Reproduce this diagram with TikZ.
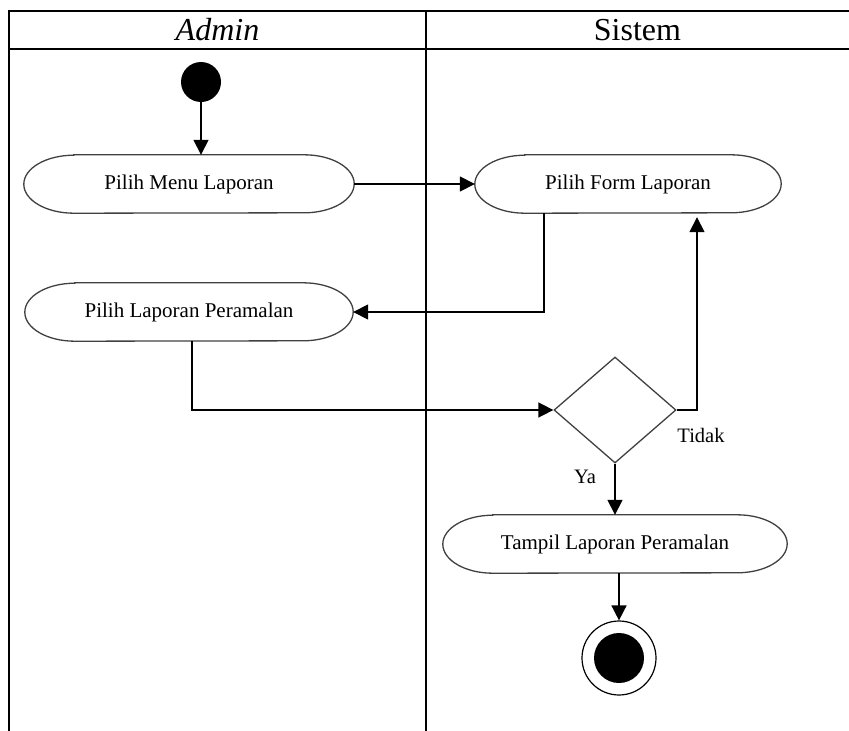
\documentclass[tikz,border=0pt]{standalone}
\usepackage{fontspec}
\setmainfont{Liberation Serif}
\usetikzlibrary{arrows.meta,shapes.geometric,calc}

\begin{document}
\begin{tikzpicture}[x=1pt,y=-1pt,
  lane/.style={line width=1.6pt, black},
  headtext/.style={font=\fontsize{32}{36}\selectfont},
  act/.style={inner sep=0pt, minimum height=58pt, font=\fontsize{21}{24}\selectfont},
  actline/.style={line width=1.3pt, draw={black!75}},
  flow/.style={line width=1.6pt, -{Triangle[length=15pt,width=15pt]}},
  decision/.style={diamond, draw={black!75}, line width=1.3pt, inner sep=0pt,
                   minimum width=122pt, minimum height=106pt},
  startnode/.style={circle, fill=black, inner sep=0pt, minimum size=40pt},
  guard/.style={font=\fontsize{20.5}{24}\selectfont, inner sep=0pt}
]
\useasboundingbox (0,0) rectangle (849,731);

% swimlane frame
\draw[lane] (849,11) -- (9,11) -- (9,731);
\draw[lane] (9,49) -- (849,49);
\draw[lane] (426,11) -- (426,731);
\node[headtext] (hadmin) at (217.5,30) {\textit{Admin}};
\node[headtext] (hsistem) at (637.5,30) {Sistem};

% activities
\node[startnode] (start) at (201,82) {};
\node[act, minimum width=330pt] (menu) at (189,184) {Pilih Menu Laporan};
\node[act, minimum width=306pt] (form) at (628,184) {Pilih Form Laporan};
\node[act, minimum width=328pt] (pilih) at (189,312) {Pilih Laporan Peramalan};
\node[decision] (dec) at (615,410) {};
\node[act, minimum width=344pt] (tampil) at (615,544) {Tampil Laporan Peramalan};
\node[circle, draw=black, line width=1.2pt, inner sep=0pt, minimum size=74pt] (stop) at (619,658) {};
\node[circle, fill=black, inner sep=0pt, minimum size=50pt] (stopdot) at (stop.center) {};

% rounded outlines of the activity boxes (flat sides, elliptical ends)
\foreach \n in {menu,form,pilih,tampil}{
  \draw[actline] ([xshift=50pt]\n.north west) -- ([xshift=-50pt]\n.north east)
    arc[start angle=90, end angle=-90, x radius=50pt, y radius=29pt]
    -- ([xshift=50pt]\n.south west)
    arc[start angle=270, end angle=90, x radius=50pt, y radius=29pt] -- cycle;
}

% guard labels
\node[guard] (tidak) at (701,435) {Tidak};
\node[guard] (ya) at (585,477) {Ya};

% control flow
\draw[flow] (start.south) -- (start.south |- menu.north);
\draw[flow] (menu.east) -- (form.west);
\draw[flow] ([xshift=-84pt]form.south) |- (pilih.east);
\draw[flow] ([xshift=3pt]pilih.south) |- (dec.west);
\draw[flow, shorten >=4pt] (dec.east) -| ([xshift=69pt]form.south);
\draw[flow] (dec.south) -- (tampil.north);
\draw[flow] (tampil.south -| stop.north) -- (stop.north);
\end{tikzpicture}
\end{document}
